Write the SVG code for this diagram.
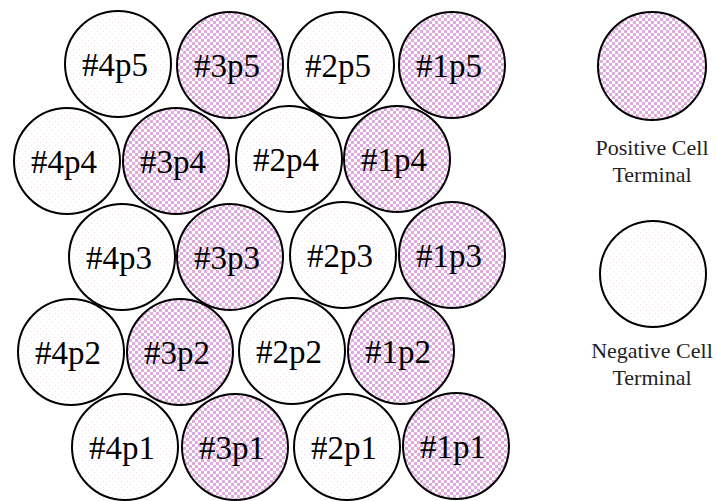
<svg xmlns="http://www.w3.org/2000/svg" width="716" height="501" viewBox="0 0 716 501">
<defs>
<pattern id="pos" width="6" height="6" patternUnits="userSpaceOnUse">
<rect width="6" height="6" fill="#ffffff"/>
<rect x="0" y="0" width="3" height="3" fill="#dfaade"/>
<rect x="3" y="3" width="3" height="3" fill="#dfaade"/>
</pattern>
<pattern id="neg" width="6" height="6" patternUnits="userSpaceOnUse">
<rect width="6" height="6" fill="#ffffff"/>
<rect x="1" y="1" width="1" height="1" fill="#f2dcf2"/>
<rect x="4" y="4" width="1" height="1" fill="#f2dcf2"/>
</pattern>
</defs>
<style>
.p{fill:url(#pos);stroke:#000;stroke-width:2}
.n{fill:url(#neg);stroke:#000;stroke-width:2}
text{font-family:'Liberation Serif','DejaVu Serif',serif}
.t{font-size:33px;fill:#000;text-anchor:middle}
.l{font-size:22px;fill:#222;text-anchor:middle}
</style>
<rect width="716" height="501" fill="#ffffff"/>
<g id="c4p5"><circle class="n" cx="118" cy="64" r="53"/><text class="t" x="115" y="76">#4p5</text></g>
<g id="c3p5"><circle class="p" cx="230" cy="65" r="53"/><text class="t" x="227" y="77">#3p5</text></g>
<g id="c2p5"><circle class="n" cx="341" cy="65" r="53"/><text class="t" x="338" y="77">#2p5</text></g>
<g id="c1p5"><circle class="p" cx="452" cy="65" r="53"/><text class="t" x="449" y="77">#1p5</text></g>
<g id="c4p4"><circle class="n" cx="67" cy="161" r="53"/><text class="t" x="64" y="173">#4p4</text></g>
<g id="c3p4"><circle class="p" cx="176" cy="161" r="53"/><text class="t" x="173" y="173">#3p4</text></g>
<g id="c2p4"><circle class="n" cx="289" cy="159" r="53"/><text class="t" x="286" y="171">#2p4</text></g>
<g id="c1p4"><circle class="p" cx="397" cy="159" r="53"/><text class="t" x="394" y="171">#1p4</text></g>
<g id="c4p3"><circle class="n" cx="122" cy="257" r="53"/><text class="t" x="119" y="269">#4p3</text></g>
<g id="c3p3"><circle class="p" cx="230" cy="257" r="53"/><text class="t" x="227" y="269">#3p3</text></g>
<g id="c2p3"><circle class="n" cx="343" cy="255" r="53"/><text class="t" x="340" y="267">#2p3</text></g>
<g id="c1p3"><circle class="p" cx="452" cy="255" r="53"/><text class="t" x="449" y="267">#1p3</text></g>
<g id="c4p2"><circle class="n" cx="71" cy="352" r="53"/><text class="t" x="68" y="364">#4p2</text></g>
<g id="c3p2"><circle class="p" cx="180" cy="352" r="53"/><text class="t" x="177" y="364">#3p2</text></g>
<g id="c2p2"><circle class="n" cx="292" cy="351" r="53"/><text class="t" x="289" y="363">#2p2</text></g>
<g id="c1p2"><circle class="p" cx="401" cy="351" r="53"/><text class="t" x="398" y="363">#1p2</text></g>
<g id="c4p1"><circle class="n" cx="125" cy="447" r="53"/><text class="t" x="122" y="459">#4p1</text></g>
<g id="c3p1"><circle class="p" cx="235" cy="447" r="53"/><text class="t" x="232" y="459">#3p1</text></g>
<g id="c2p1"><circle class="n" cx="347" cy="447" r="53"/><text class="t" x="344" y="459">#2p1</text></g>
<g id="c1p1"><circle class="p" cx="456" cy="446" r="53"/><text class="t" x="453" y="458">#1p1</text></g>
<g id="legend-pos"><circle class="p" cx="652" cy="66" r="54"/><text class="l" x="652" y="155">Positive Cell</text><text class="l" x="652" y="182">Terminal</text></g>
<g id="legend-neg"><circle class="n" cx="653" cy="274" r="53"/><text class="l" x="652" y="358">Negative Cell</text><text class="l" x="652" y="385">Terminal</text></g>
<g id="connectors"></g>
</svg>
